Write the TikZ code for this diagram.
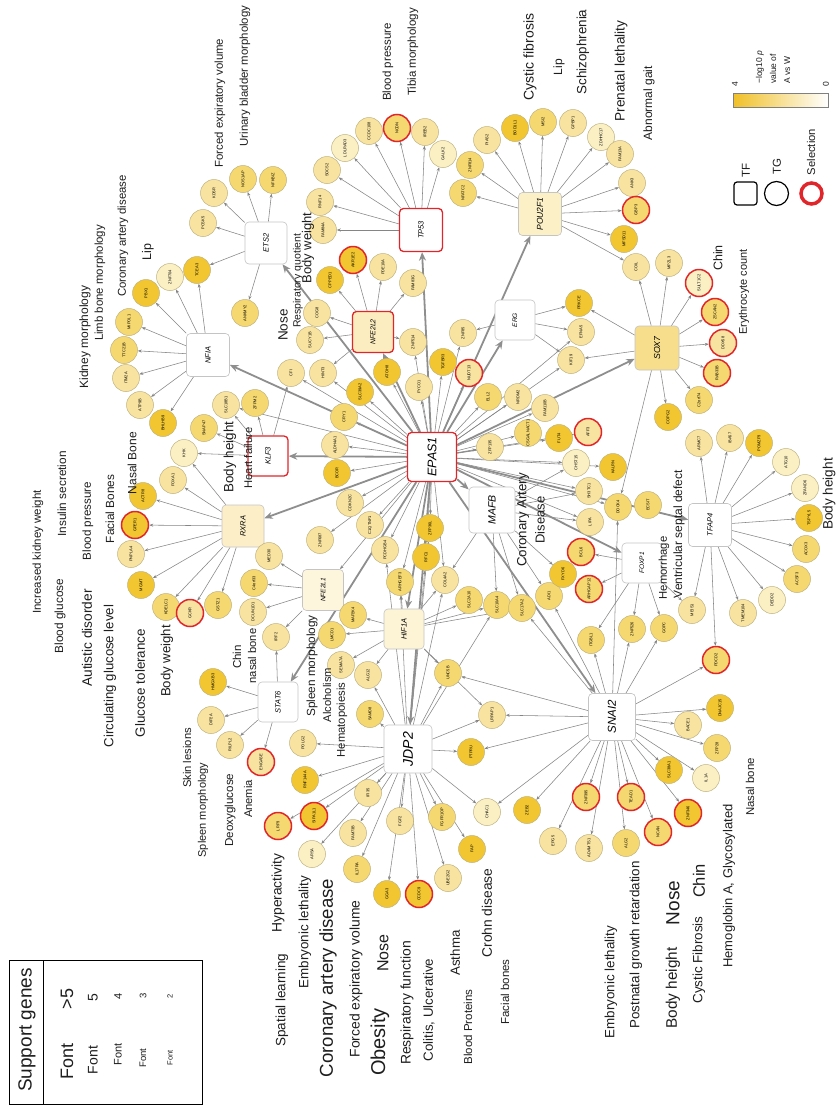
\documentclass[tikz,border=0pt]{standalone}
\usepackage{fontspec}
\setmainfont{Liberation Sans}
\usetikzlibrary{arrows.meta}
\pgfdeclarelayer{bg}
\pgfdeclarelayer{paper}
\pgfsetlayers{paper,bg,main}
\definecolor{ca}{HTML}{FBF0C4}
\definecolor{cb}{HTML}{F8E4A0}
\definecolor{cc}{HTML}{F5D870}
\definecolor{cd}{HTML}{F1C630}
\definecolor{tgb}{HTML}{BFB27E}
\definecolor{selr}{HTML}{E0262A}
\definecolor{edg}{HTML}{858585}
\definecolor{edt}{HTML}{8E8E8E}
\definecolor{tfb}{HTML}{C4C4C4}
\definecolor{txt}{HTML}{1E1E1E}
\begin{document}
\begin{tikzpicture}[x=1pt,y=-1pt,
  tg/.style={circle, draw=tgb, line width=0.5pt, minimum size=27pt, inner sep=0pt, font=\fontsize{4}{4.5}\selectfont, rotate=90},
  sel/.style={draw=selr, line width=1.5pt},
  tf/.style={rectangle, rounded corners=4pt, draw=tfb, line width=0.6pt, minimum size=#1pt, inner sep=0pt, fill=white, rotate=90, font=\itshape\fontsize{7.5}{8}\selectfont},
  tfsel/.style={draw=selr, line width=1.3pt},
  tff/.style={font=\itshape\fontsize{#1}{#1}\selectfont},
  ph/.style={rotate=90, inner sep=0pt, text=txt, font=\fontsize{#1}{#1}\selectfont},
  e/.style={draw=edg, line width=0.55pt, -{Stealth[length=4pt,width=3pt]}},
  te/.style={draw=edt, line width=1.8pt, -{Stealth[length=8.5pt,width=7pt]}}
]
\useasboundingbox (0,0) rectangle (836,1106);
\begin{pgfonlayer}{paper}
\fill[white] (0,0) rectangle (836,1106);
\end{pgfonlayer}

% ---------- TF nodes ----------
\node[tf=42] (ETS2) at (266,243) {ETS2};
\node[tf=43] (NFIA) at (208,355) {NFIA};
\node[tf=40,tfsel] (KLF3) at (268,456) {KLF3};
\node[tf=42,fill={rgb,255:red,252;green,239;blue,200}] (RXRA) at (243,526) {RXRA};
\node[tf=41,fill={rgb,255:red,253;green,245;blue,220},tff=6.5] (NFE2L1) at (323,590) {NFE2L1};
\node[tf=40] (STAT6) at (278,702) {STAT6};
\node[tf=40,fill={rgb,255:red,253;green,244;blue,214}] (HIF1A) at (404,629) {HIF1A};
\node[tf=48,tff=14] (JDP2) at (408,749) {JDP2};
\node[tf=49,tfsel,tff=12.5] (EPAS1) at (432,457) {EPAS1};
\node[tf=46,tff=10.5] (MAFB) at (492,510) {MAFB};
\node[tf=40,tff=6.5] (ERG) at (515,320) {ERG};
\node[tf=41,tfsel,fill={rgb,255:red,251;green,237;blue,191},tff=7] (NFE2L2) at (373,332) {NFE2L2};
\node[tf=43,tfsel] (TP53) at (421,230) {TP53};
\node[tf=43,fill={rgb,255:red,252;green,240;blue,198},tff=8.5] (POU2F1) at (540,214) {POU2F1};
\node[tf=44,fill={rgb,255:red,247;green,222;blue,140},tff=8.7] (SOX7) at (657,348) {SOX7};
\node[tf=43] (TFAP4) at (710,525) {TFAP4};
\node[tf=40,tff=6.5] (FOXP1) at (642,563) {FOXP1};
\node[tf=47,tff=11.5] (SNAI2) at (612,717) {SNAI2};

% ---------- TG nodes ----------
\node[tg,fill=cb] (PCSK5) at (203,223) {PCSK5};
\node[tg,fill=cb] (KDSR) at (214,193) {KDSR};
\node[tg,fill=cc] (NOS1AP) at (243,179) {NOS1AP};
\node[tg,fill=cc] (NFKBIZ) at (273,180) {NFKBIZ};
\node[tg,fill=cd] (TCEA3) at (197,270) {TCEA3};
\node[tg,fill=ca] (ZNF704) at (170,277) {ZNF704};
\node[tg,fill=cd] (PBX1) at (146,293) {PBX1};
\node[tg,fill=cc] (MIPOL1) at (129,322) {MIPOL1};
\node[tg,fill=cc] (TTC21B) at (124,350) {TTC21B};
\node[tg,fill=cb] (ITM2A) at (126,378) {ITM2A};
\node[tg,fill=cb] (ATP9B) at (140,405) {ATP9B};
\node[tg,fill=cd] (BHLHB9) at (163,423) {BHLHB9};
\node[tg,fill=cc] (ANKMY2) at (245,313) {ANKMY2};
\node[tg,fill=cb] (SLC18B1) at (226,405) {SLC18B1};
\node[tg,fill=cc] (ZFPM2) at (255,403) {ZFPM2};
\node[tg,fill=cc] (SNAP47) at (204,428) {SNAP47};
\node[tg,fill=ca] (KHK) at (184,453) {KHK};
\node[tg,fill=cb] (FOXA1) at (173,480) {FOXA1};
\node[tg,fill=cd] (ACTR8) at (143,496) {ACTR8};
\node[tg,sel,fill=cd] (GPER1) at (135,525) {GPER1};
\node[tg,fill=cb] (PNPLA4) at (131,554) {PNPLA4};
\node[tg,fill=cb] (MED30) at (269,556) {MED30};
\node[tg,fill=cd] (MGMT) at (141,585) {MGMT};
\node[tg,fill=cc] (KDELC1) at (166,607) {KDELC1};
\node[tg,sel,fill=cb] (GCKR) at (190,613) {GCKR};
\node[tg,fill=cc] (GSTZ1) at (218,605) {GSTZ1};
\node[tg,fill=cc] (C4orf33) at (254,583) {C4orf33};
\node[tg,fill=cb] (DCUN1D1) at (253,612) {DCUN1D1};
\node[tg,fill=cb] (IRF2) at (276,637) {IRF2};
\node[tg,fill=cd] (HMGXB3) at (213,682) {HMGXB3};
\node[tg,fill=cb] (DIP2A) at (211,720) {DIP2A};
\node[tg,fill=cb] (RILPL2) at (230,745) {RILPL2};
\node[tg,sel,fill=cb] (ENGASE) at (261,762) {ENGASE};
\node[tg,sel,fill=cc] (LRP3) at (278,826) {LRP3};
\node[tg,sel,fill=cd] (SIPA1L1) at (314,816) {SIPA1L1};
\node[tg,fill=ca] (ARSA) at (312,854) {ARSA};
\node[tg,fill=cb] (FAM73B) at (353,833) {FAM73B};
\node[tg,fill=cc] (IL17RA) at (357,869) {IL17RA};
\node[tg,fill=cb] (FGF2) at (400,821) {FGF2};
\node[tg,fill=cd] (GGA3) at (387,894) {GGA3};
\node[tg,sel,fill=cd] (CCDC9) at (419,894) {CCDC9};
\node[tg,fill=cb] (UBE2G2) at (448,878) {UBE2G2};
\node[tg,fill=cd] (FAP) at (472,849) {FAP};
\node[tg,fill=cc] (FGFR1OP) at (442,817) {FGFR1OP};
\node[tg,fill=ca] (CHAC1) at (487,812) {CHAC1};
\node[tg,fill=cd] (ZEB2) at (527,810) {ZEB2};
\node[tg,fill=cb] (EPG5) at (553,841) {EPG5};
\node[tg,fill=cb] (ZNF687) at (320,540) {ZNF687};
\node[tg,fill=cb] (PCDHGB4) at (385,550) {PCDHGB4};
\node[tg,fill=cd] (ZFP36L) at (430,528) {ZFP36L};
\node[tg,fill=cd] (RFC1) at (426,557) {RFC1};
\node[tg,fill=cc] (ARHGEF3) at (400,582) {ARHGEF3};
\node[tg,fill=cb] (COL4A2) at (445,580) {COL4A2};
\node[tg,fill=cc] (SLC2A10) at (469,600) {SLC2A10};
\node[tg,fill=cc] (SLC10A4) at (497,605) {SLC10A4};
\node[tg,fill=cc] (SLC17A2) at (522,608) {SLC17A2};
\node[tg,fill=cc] (ADI1) at (549,596) {ADI1};
\node[tg,fill=cc] (MAP2K4) at (353,615) {MAP2K4};
\node[tg,fill=cc] (LMCD1) at (332,635) {LMCD1};
\node[tg,fill=cb] (SEMA7A) at (341,665) {SEMA7A};
\node[tg,fill=cb] (ALG12) at (368,675) {ALG12};
\node[tg,fill=cc] (SAMD8) at (370,714) {SAMD8};
\node[tg,fill=cc] (UNC5B) at (448,673) {UNC5B};
\node[tg,fill=cb] (LRPAP1) at (492,715) {LRPAP1};
\node[tg,fill=cd] (PTPRU) at (471,752) {PTPRU};
\node[tg,fill=cb] (POLG2) at (303,743) {POLG2};
\node[tg,fill=cd] (RNF144A) at (305,780) {RNF144A};
\node[tg,fill=cb] (IFI35) at (368,793) {IFI35};
\node[tg,sel,fill=cc] (BCL6) at (581,552) {BCL6};
\node[tg,fill=cd] (FXYD6) at (563,574) {FXYD6};
\node[tg,sel,fill=cc] (ARHGAP12) at (589,589) {ARHGAP12};
\node[tg,fill=cc] (ITGBL1) at (591,640) {ITGBL1};
\node[tg,fill=cc] (ZNF526) at (632,629) {ZNF526};
\node[tg,fill=cc] (GOPC) at (664,628) {GOPC};
\node[tg,fill=cb] (MEIS1) at (692,610) {MEIS1};
\node[tg,fill=cb] (TMEM104) at (743,613) {TMEM104};
\node[tg,fill=ca] (DEDD2) at (772,600) {DEDD2};
\node[tg,fill=cc] (ACSF3) at (797,579) {ACSF3};
\node[tg,fill=cc] (ACOX3) at (806,549) {ACOX3};
\node[tg,sel,fill=cc] (PDCD2) at (716,660) {PDCD2};
\node[tg,fill=cd] (DNAJC15) at (720,708) {DNAJC15};
\node[tg,fill=cb] (BACE1) at (688,725) {BACE1};
\node[tg,fill=cc] (ZFP28) at (717,748) {ZFP28};
\node[tg,fill=cd] (SLC38A1) at (669,770) {SLC38A1};
\node[tg,fill=ca] (IL1A) at (706,778) {IL1A};
\node[tg,sel,fill=cd] (ZNF346) at (688,813) {ZNF346};
\node[tg,sel,fill=cc] (TEAD1) at (631,797) {TEAD1};
\node[tg,sel,fill=cc] (ZNF395) at (586,797) {ZNF395};
\node[tg,sel,fill=cc] (NCAN) at (658,832) {NCAN};
\node[tg,fill=cb] (ADAMTS1) at (589,848) {ADAMTS1};
\node[tg,fill=cc] (ALG2) at (626,843) {ALG2};
\node[tg,fill=cd] (PRKCE) at (579,303) {PRKCE};
\node[tg,fill=cb] (EFNA5) at (581,332) {EFNA5};
\node[tg,fill=cb] (KIF19) at (571,360) {KIF19};
\node[tg,fill=cb] (FAM110B) at (545,408) {FAM110B};
\node[tg,fill=cd] (FUT4) at (559,438) {FUT4};
\node[tg,sel,fill=cb] (AFF3) at (588,432) {AFF3};
\node[tg,fill=ca] (CHST15) at (576,463) {CHST15};
\node[tg,fill=cd] (KALRN) at (613,467) {KALRN};
\node[tg,fill=cb] (SH3TC1) at (589,491) {SH3TC1};
\node[tg,fill=cc] (DOCK4) at (618,507) {DOCK4};
\node[tg,fill=cc] (ECSIT) at (648,505) {ECSIT};
\node[tg,fill=cb] (LIPA) at (590,522) {LIPA};
\node[tg,fill=cd] (COPG2) at (668,417) {COPG2};
\node[tg,fill=cc] (C2orf74) at (699,400) {C2orf74};
\node[tg,sel,fill=cc] (RAB33B) at (717,373) {RAB33B};
\node[tg,sel,fill=cb] (DDX58) at (723,343) {DDX58};
\node[tg,sel,fill=cc] (ZSCAN2) at (715,312) {ZSCAN2};
\node[tg,sel,fill=ca] (SULT1C2) at (699,283) {SULT1C2};
\node[tg,fill=cb] (COIL) at (636,267) {COIL};
\node[tg,fill=cb] (MPZL3) at (669,263) {MPZL3};
\node[tg,fill=cb] (ARMC7) at (699,443) {ARMC7};
\node[tg,fill=cb] (IBA57) at (730,438) {IBA57};
\node[tg,fill=cd] (POMZP3) at (759,443) {POMZP3};
\node[tg,fill=ca] (ATG10) at (786,462) {ATG10};
\node[tg,fill=ca] (ZFAND6) at (805,488) {ZFAND6};
\node[tg,fill=cd] (TSPYL5) at (809,518) {TSPYL5};
\node[tg,fill=cb] (GPBP1) at (573,123) {GPBP1};
\node[tg,fill=ca] (ZDHHC17) at (601,137) {ZDHHC17};
\node[tg,fill=cb] (FAM13A) at (620,154) {FAM13A};
\node[tg,fill=cb] (ANK3) at (632,183) {ANK3};
\node[tg,sel,fill=cc] (GBP3) at (636,210) {GBP3};
\node[tg,fill=cd] (MFSD11) at (624,239) {MFSD11};
\node[tg,fill=ca] (LDLRAD3) at (345,148) {LDLRAD3};
\node[tg,fill=cb] (CCDC108) at (369,131) {CCDC108};
\node[tg,sel,fill=cc] (NCDN) at (397,128) {NCDN};
\node[tg,fill=cb] (IREB2) at (425,132) {IREB2};
\node[tg,fill=ca] (GALK2) at (443,154) {GALK2};
\node[tg,fill=cb] (SOCS2) at (327,170) {SOCS2};
\node[tg,fill=cb] (RNF14) at (320,202) {RNF14};
\node[tg,fill=cb] (FAM84A) at (323,230) {FAM84A};
\node[tg,fill=cd] (CPPED1) at (330,280) {CPPED1};
\node[tg,sel,fill=cd] (AKR1E2) at (353,260) {AKR1E2};
\node[tg,fill=cb] (PDE10A) at (383,267) {PDE10A};
\node[tg,fill=cb] (FAM83G) at (413,283) {FAM83G};
\node[tg,fill=cc] (NFATC2) at (463,193) {NFATC2};
\node[tg,fill=cc] (ZNF814) at (470,165) {ZNF814};
\node[tg,fill=cb] (PIAS2) at (487,140) {PIAS2};
\node[tg,fill=cd] (BOD1L1) at (515,128) {BOD1L1};
\node[tg,fill=cc] (MSI2) at (543,122) {MSI2};
\node[tg,fill=cb] (COG8) at (317,313) {COG8};
\node[tg,fill=cb] (SUCY1B) at (310,340) {SUCY1B};
\node[tg,fill=cb] (CFI) at (291,373) {CFI};
\node[tg,fill=cb] (HINT3) at (323,373) {HINT3};
\node[tg,fill=cd] (SLC39A2) at (360,392) {SLC39A2};
\node[tg,fill=cd] (ATOH8) at (387,372) {ATOH8};
\node[tg,fill=cb] (ZNF514) at (413,342) {ZNF514};
\node[tg,fill=cb] (FYCO1) at (419,387) {FYCO1};
\node[tg,fill=cd] (TGFBR3) at (443,362) {TGFBR3};
\node[tg,fill=cb] (ZNF85) at (463,333) {ZNF85};
\node[tg,sel,fill=cb] (NUDT13) at (469,373) {NUDT13};
\node[tg,fill=cc] (ELL2) at (488,397) {ELL2};
\node[tg,fill=cb] (NRDM2) at (518,397) {NRDM2};
\node[tg,fill=cc] (CRY1) at (344,417) {CRY1};
\node[tg,fill=cb] (ALDH4A1) at (335,445) {ALDH4A1};
\node[tg,fill=cd] (BCOR) at (337,473) {BCOR};
\node[tg,fill=cb] (CDKN2C) at (350,503) {CDKN2C};
\node[tg,fill=cb] (C1QTNF1) at (370,525) {C1QTNF1};
\node[tg,fill=cb] (ZFP135) at (490,447) {ZFP135};
\node[tg,fill=cc] (CSGALNACT1) at (528,433) {CSGALNACT1};

% ---------- edges ----------
\begin{pgfonlayer}{bg}
\foreach \t in {PCSK5,KDSR,NOS1AP,NFKBIZ,TCEA3,ANKMY2} \draw[e] (ETS2) -- (\t);
\foreach \t in {ZNF704,PBX1,MIPOL1,TTC21B,ITM2A,ATP9B,BHLHB9,TCEA3} \draw[e] (NFIA) -- (\t);
\foreach \t in {KHK,SNAP47,SLC18B1,ZFPM2,CFI} \draw[e] (KLF3) -- (\t);
\foreach \t in {ACTR8,GPER1,FOXA1,KHK,PNPLA4,MGMT,KDELC1,GCKR,GSTZ1} \draw[e] (RXRA) -- (\t);
\foreach \t in {C4orf33,DCUN1D1,IRF2,MED30} \draw[e] (NFE2L1) -- (\t);
\foreach \t in {HMGXB3,DIP2A,RILPL2,ENGASE,IRF2} \draw[e] (STAT6) -- (\t);
\foreach \t in {POLG2,RNF144A,SIPA1L1,LRP3,ARSA,FAM73B,IL17RA,IFI35,FGF2,GGA3,CCDC9,FGFR1OP,UBE2G2,FAP,CHAC1,PTPRU,SAMD8,ALG12,ARHGEF3,PCDHGB4,RFC1,COL4A2,UNC5B,LRPAP1,SLC10A4,ZFP36L} \draw[e] (JDP2) -- (\t);
\foreach \t in {MAP2K4,LMCD1,SEMA7A,ALG12,COL4A2,SLC2A10,SLC10A4,SLC17A2,UNC5B,ARHGEF3,LRPAP1} \draw[e] (HIF1A) -- (\t);
\foreach \t in {ADI1,SLC17A2,SLC10A4,FXYD6,LIPA,SH3TC1,CHST15,COL4A2} \draw[e] (MAFB) -- (\t);
\foreach \t in {ARHGAP12,ITGBL1,ZNF526,GOPC,MEIS1,BCL6} \draw[e] (FOXP1) -- (\t);
\foreach \t in {ITGBL1,ZNF526,GOPC,PDCD2,DNAJC15,BACE1,ZFP28,SLC38A1,IL1A,ZNF346,NCAN,TEAD1,ZNF395,ALG2,ADAMTS1,EPG5,ZEB2,CHAC1,LRPAP1,UNC5B,PTPRU,DOCK4,SLC17A2,ADI1} \draw[e] (SNAI2) -- (\t);
\foreach \t in {ARMC7,IBA57,POMZP3,ATG10,ZFAND6,TSPYL5,ACOX3,ACSF3,DEDD2,TMEM104,PDCD2,MEIS1} \draw[e] (TFAP4) -- (\t);
\foreach \t in {COIL,MPZL3,SULT1C2,ZSCAN2,DDX58,RAB33B,C2orf74,COPG2,PRKCE,KIF19,DOCK4} \draw[e] (SOX7) -- (\t);
\foreach \t in {PRKCE,EFNA5,KIF19,ZNF85} \draw[e] (ERG) -- (\t);
\foreach \t in {NFATC2,ZNF814,PIAS2,BOD1L1,MSI2,GPBP1,ZDHHC17,FAM13A,ANK3,GBP3,MFSD11,COIL} \draw[e] (POU2F1) -- (\t);
\foreach \t in {LDLRAD3,CCDC108,NCDN,IREB2,GALK2,SOCS2,RNF14,FAM84A} \draw[e] (TP53) -- (\t);
\foreach \t in {CPPED1,AKR1E2,PDE10A,FAM83G,COG8,SUCY1B,HINT3,ZNF514} \draw[e] (NFE2L2) -- (\t);
\foreach \t in {CFI,HINT3,SLC39A2,ATOH8,FYCO1,TGFBR3,NUDT13,ELL2,NRDM2,ZNF85,CRY1,ALDH4A1,BCOR,CDKN2C,C1QTNF1,ZNF687,PCDHGB4,ZFP36L,RFC1,ZFP135,CSGALNACT1,FUT4,AFF3,CHST15,KALRN,FAM110B,ZNF514,NFE2L1,SLC18B1,KIF19,EFNA5,SH3TC1,DOCK4,LIPA,ARHGEF3,COL4A2} \draw[e] (EPAS1) -- (\t);
\foreach \t in {ETS2,NFIA,KLF3,RXRA,STAT6,HIF1A,JDP2,SNAI2,FOXP1,TFAP4,SOX7,ERG,POU2F1,TP53,NFE2L2,MAFB} \draw[te] (EPAS1) -- (\t);
\end{pgfonlayer}

% ---------- phenotype labels ----------
\node[ph=11.4] (ph1) at (220,103) {Forced expiratory volume};
\node[ph=11.4] (ph2) at (245,76) {Urinary bladder morphology};
\node[ph=11.4] (ph3) at (123,236) {Coronary artery disease};
\node[ph=11.4] (ph4) at (100,283) {Limb bone morphology};
\node[ph=12.5] (ph5) at (148,252) {Lip};
\node[ph=12] (ph6) at (85,337) {Kidney morphology};
\node[ph=13.5] (ph7) at (283,325) {Nose};
\node[ph=10.5] (ph8) at (298,281) {Respiratory quotient};
\node[ph=13] (ph9) at (308,248) {Body weight};
\node[ph=11.5] (ph10) at (388,62) {Blood pressure};
\node[ph=11.5] (ph11) at (413,52) {Tibia morphology};
\node[ph=14] (ph12) at (530,57) {Cystic fibrosis};
\node[ph=12] (ph13) at (559,67) {Lip};
\node[ph=13.4] (ph14) at (583,52) {Schizophrenia};
\node[ph=13.7] (ph15) at (621,71) {Prenatal lethality};
\node[ph=12] (ph16) at (649,103) {Abnormal gait};
\node[ph=12.5] (ph17) at (718,258) {Chin};
\node[ph=11] (ph18) at (744,292) {Erythrocyte count};
\node[ph=11.5] (ph19) at (38,552) {Increased kidney weight};
\node[ph=11.8] (ph20) at (62,494) {Insulin secretion};
\node[ph=11.6] (ph21) at (88,521) {Blood pressure};
\node[ph=11.8] (ph22) at (110,509) {Facial Bones};
\node[ph=12] (ph23) at (132,463) {Nasal Bone};
\node[ph=13.4] (ph24) at (230,457) {Body height};
\node[ph=11.2] (ph25) at (248,458) {Heart failure};
\node[ph=11.8] (ph26) at (60,616) {Blood glucose};
\node[ph=13.7] (ph27) at (87,638) {Autistic disorder};
\node[ph=13.2] (ph28) at (110,676) {Circulating glucose level};
\node[ph=13.4] (ph29) at (140,683) {Glucose tolerance};
\node[ph=13.2] (ph30) at (167,661) {Body weight};
\node[ph=11.5] (ph31) at (237,657) {Chin};
\node[ph=11.2] (ph32) at (252,656) {nasal bone};
\node[ph=11.2] (ph33) at (187,758) {Skin lesions};
\node[ph=11] (ph34) at (203,810) {Spleen morphology};
\node[ph=11.6] (ph35) at (230,810) {Deoxyglucose};
\node[ph=11.2] (ph36) at (248,799) {Anemia};
\node[ph=11.8] (ph37) at (312,666) {Spleen morphology};
\node[ph=11.2] (ph38) at (327,695) {Alcoholism};
\node[ph=11.3] (ph39) at (342,720) {Hematopoiesis};
\node[ph=13.3] (ph40) at (523,520) {Coronary Artery};
\node[ph=13] (ph41) at (540,520) {Disease};
\node[ph=11.3] (ph42) at (664,568) {Hemorrhage};
\node[ph=12] (ph43) at (679,534) {Ventricular septal defect};
\node[ph=11.4] (ph44) at (750,787) {Nasal bone};
\node[ph=13] (ph45) at (729,886) {Hemoglobin A, Glycosylated};
\node[ph=13.6] (ph46) at (829,494) {Body height};
\node[ph=13.4] (ph47) at (611,982) {Embryonic lethality};
\node[ph=13.4] (ph48) at (636,945) {Postnatal growth retardation};
\node[ph=15.3] (ph49) at (673,988) {Body height};
\node[ph=19] (ph50) at (673,903) {Nose};
\node[ph=13.4] (ph51) at (699,960) {Cystic Fibrosis};
\node[ph=16.5] (ph52) at (699,881) {Chin};
\node[ph=13.8] (ph53) at (278,893) {Hyperactivity};
\node[ph=13.5] (ph54) at (282,1000) {Spatial learning};
\node[ph=13.4] (ph55) at (305,932) {Embryonic lethality};
\node[ph=18.6] (ph56) at (328,978) {Coronary artery disease};
\node[ph=13.9] (ph57) at (356,979) {Forced expiratory volume};
\node[ph=20] (ph58) at (380,1042) {Obesity};
\node[ph=16] (ph59) at (383,953) {Nose};
\node[ph=13.9] (ph60) at (407,1003) {Respiratory function};
\node[ph=13.3] (ph61) at (429,1010) {Colitis, Ulcerative};
\node[ph=13.3] (ph62) at (455,953) {Asthma};
\node[ph=11.5] (ph63) at (468,1027) {Blood Proteins};
\node[ph=13.8] (ph64) at (487,913) {Crohn disease};
\node[ph=11.5] (ph65) at (505,992) {Facial bones};

% ---------- legend top right ----------
\shade[left color={rgb,255:red,240;green,192;blue,40}, right color=white, draw=gray, line width=0.4pt] (733,93) rectangle (828,107);
\node[ph=8.5] (lg4) at (735,84) {4};
\node[ph=8.5] (lg0) at (826,84) {0};
\node[rotate=90, anchor=west, align=left, inner sep=0pt, text=txt, font=\fontsize{8.5}{14}\selectfont] (lgt) at (773,84) {−log10 \textit{p}\\value of\\A vs W};
\node[draw=black, line width=1.2pt, rounded corners=3pt, minimum size=23pt, inner sep=0pt] (lgtf) at (745.5,193.5) {};
\node[ph=11.5] (lgtft) at (746,170) {TF};
\node[circle, draw=black, line width=1.2pt, minimum size=24pt, inner sep=0pt] (lgtg) at (776.5,193.5) {};
\node[ph=11.5] (lgtgt) at (777,167) {TG};
\node[circle, draw=selr, line width=3.5pt, minimum size=21pt, inner sep=0pt] (lgsel) at (811.5,193.5) {};
\node[ph=11.2] (lgselt) at (811,152) {Selection};

% ---------- legend bottom left ----------
\draw[line width=1pt] (9,960) rectangle (202,1104);
\draw[line width=1pt] (43,960) -- (43,1104);
\node[ph=19] (sg) at (27,1030) {Support genes};
\node[ph=18] (f1) at (67,1061) {Font};
\node[ph=18] (n1) at (67,999) {>5};
\node[ph=14] (f2) at (93,1060) {Font};
\node[ph=14] (n2) at (93,998) {5};
\node[ph=11] (f3) at (118,1054) {Font};
\node[ph=11] (n3) at (118,996) {4};
\node[ph=9.5] (f4) at (143,1058) {Font};
\node[ph=9.5] (n4) at (143,996) {3};
\node[ph=7.5] (f5) at (170,1058) {Font};
\node[ph=7.5] (n5) at (170,996) {2};
\end{tikzpicture}
\end{document}
